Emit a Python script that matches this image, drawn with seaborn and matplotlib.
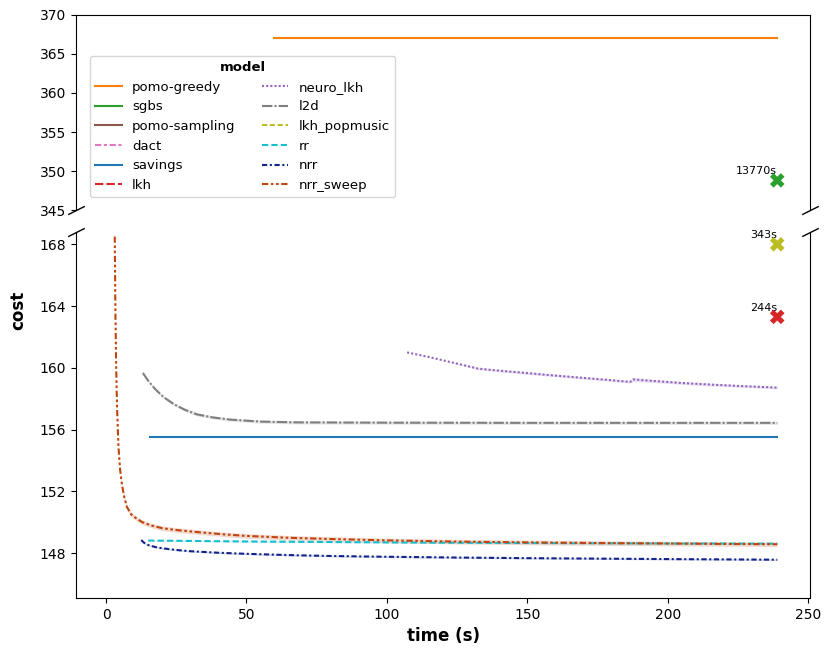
import matplotlib
matplotlib.use("Agg")
import matplotlib.pyplot as plt
from matplotlib.lines import Line2D
import seaborn as sns
import pandas as pd

models = ["pomo-greedy", "sgbs", "pomo-sampling", "dact", "savings", "lkh",
          "neuro_lkh", "l2d", "lkh_popmusic", "rr", "nrr", "nrr_sweep"]

colors = {
    "pomo-greedy": "#ff7f0e", "sgbs": "#2ca02c", "pomo-sampling": "#8c564b",
    "dact": "#e377c2", "savings": "#1f77b4", "lkh": "#d62728",
    "neuro_lkh": "#9467bd", "l2d": "#7f7f7f", "lkh_popmusic": "#bcbd22",
    "rr": "#17becf", "nrr": "#12238a", "nrr_sweep": "#c1440e",
}
dashes = {
    "pomo-greedy": "", "sgbs": "", "pomo-sampling": "", "dact": (3, 1.25, 1.5, 1.25),
    "savings": "", "lkh": (4, 1.5), "neuro_lkh": (1, 1), "l2d": (5, 1, 1, 1),
    "lkh_popmusic": (2.5, 1.25), "rr": (3, 1.5),
    "nrr": (2.5, 1.25, 1, 1.25), "nrr_sweep": (3, 1.25, 1.25, 1.25, 1.25, 1.25),
}

# anytime curves (time in s, mean cost)
pomo_greedy_t = [59.8, 239]
pomo_greedy_c = [367.1, 367.1]

savings_t = [15.7, 239]
savings_c = [155.5, 155.5]

neuro_lkh_t = [107.2, 115, 122, 132.5, 140, 150, 160, 170, 180, 186.6, 187.7, 195, 205, 215, 225, 239]
neuro_lkh_c = [161.0, 160.7, 160.4, 159.95, 159.82, 159.66, 159.5, 159.35, 159.2, 159.09,
               159.25, 159.15, 159.02, 158.92, 158.83, 158.72]
neuro_lkh_err = [0.0, 0.0, 0.0, 0.07, 0.08, 0.08, 0.08, 0.08, 0.08, 0.08, 0.14, 0.1, 0.09, 0.09, 0.08, 0.08]

l2d_t = [13.1, 15, 17.5, 20.4, 24, 28, 32.3, 38, 44.2, 55, 68, 100, 150, 200, 239]
l2d_c = [159.67, 159.16, 158.62, 158.12, 157.66, 157.29, 156.99, 156.79, 156.65, 156.52,
         156.47, 156.45, 156.44, 156.44, 156.44]
l2d_err = [0.05, 0.06, 0.07, 0.08, 0.09, 0.1, 0.1, 0.1, 0.1, 0.1, 0.1, 0.1, 0.1, 0.1, 0.1]

rr_t = [15, 50, 100, 150, 200, 239]
rr_c = [148.82, 148.76, 148.7, 148.66, 148.63, 148.62]
rr_err = [0.04, 0.04, 0.04, 0.04, 0.04, 0.04]

nrr_t = [12.5, 13.5, 15, 17.5, 20, 25, 30, 40, 50, 65, 80, 100, 125, 150, 175, 200, 239]
nrr_c = [148.85, 148.68, 148.53, 148.4, 148.32, 148.21, 148.13, 148.03, 147.96, 147.88,
         147.82, 147.77, 147.72, 147.68, 147.65, 147.62, 147.58]
nrr_err = [0.05] * len(nrr_t)

nrr_sweep_t = [3.1, 3.3, 3.6, 3.9, 4.4, 5.0, 5.6, 6.5, 7.4, 9.0, 11, 13, 16, 20, 25, 33,
               42, 50, 65, 80, 100, 125, 150, 175, 200, 220, 239]
nrr_sweep_c = [168.5, 164.0, 160.0, 157.5, 154.9, 153.4, 152.5, 151.6, 151.0, 150.5, 150.22,
               150.0, 149.8, 149.62, 149.5, 149.36, 149.22, 149.12, 149.0, 148.92, 148.83,
               148.75, 148.7, 148.66, 148.63, 148.6, 148.58]
nrr_sweep_err = [0.15] * len(nrr_sweep_t)

# methods that only finish after the time limit
final_models = ["sgbs", "lkh_popmusic", "lkh"]
final_time = [239, 239, 239]
final_cost = [348.8, 168.0, 163.3]
final_runtime = ["13770s", "343s", "244s"]

curves = {
    "pomo-greedy": (pomo_greedy_t, pomo_greedy_c, None),
    "savings": (savings_t, savings_c, None),
    "neuro_lkh": (neuro_lkh_t, neuro_lkh_c, neuro_lkh_err),
    "l2d": (l2d_t, l2d_c, l2d_err),
    "rr": (rr_t, rr_c, rr_err),
    "nrr": (nrr_t, nrr_c, nrr_err),
    "nrr_sweep": (nrr_sweep_t, nrr_sweep_c, nrr_sweep_err),
}

rows = []
for m, (t, c, _) in curves.items():
    for ti, ci in zip(t, c):
        rows.append({"model": m, "time": ti, "cost": ci})
df = pd.DataFrame(rows)
df_final = pd.DataFrame({"model": final_models, "time": final_time, "cost": final_cost})

fig, (ax_top, ax_bot) = plt.subplots(
    2, 1, sharex=True, figsize=(8.3, 6.51), dpi=100,
    gridspec_kw={"height_ratios": [195, 366]})
fig.subplots_adjust(left=0.0916, right=0.976, top=0.977, bottom=0.0814, hspace=0.078)

for ax in (ax_top, ax_bot):
    sns.lineplot(data=df, x="time", y="cost", hue="model", style="model",
                 palette=colors, dashes=dashes, errorbar=None, linewidth=1.5,
                 legend=False, ax=ax)
    for m, (t, c, err) in curves.items():
        if err is None:
            continue
        lo = [ci - e for ci, e in zip(c, err)]
        hi = [ci + e for ci, e in zip(c, err)]
        ax.fill_between(t, lo, hi, color=colors[m], alpha=0.2, linewidth=0)
    sns.scatterplot(data=df_final, x="time", y="cost", hue="model", palette=colors,
                    marker="X", s=110, linewidth=0, legend=False, ax=ax, zorder=5)
    ax.set_ylabel("")

ax_top.set_ylim(345, 370)
ax_top.set_yticks(range(345, 371, 5))
ax_bot.set_ylim(145.1, 168.8)
ax_bot.set_yticks(range(148, 169, 4))
ax_bot.set_xlim(-10.7, 250.7)
ax_bot.set_xticks(range(0, 251, 50))

for m, t, c, lab in zip(final_models, final_time, final_cost, final_runtime):
    ax = ax_top if c > 300 else ax_bot
    ax.annotate(lab, (t, c), xytext=(0, 3), textcoords="offset points",
                ha="right", va="bottom", fontsize=8)

ax_top.spines["bottom"].set_visible(False)
ax_bot.spines["top"].set_visible(False)
ax_top.tick_params(bottom=False, labelbottom=False)
ax_top.set_xlabel("")

d = .5
kw = dict(marker=[(-1, -d), (1, d)], markersize=12, linestyle="none",
          color="k", mec="k", mew=1, clip_on=False)
ax_top.plot([0, 1], [0, 0], transform=ax_top.transAxes, **kw)
ax_bot.plot([0, 1], [1, 1], transform=ax_bot.transAxes, **kw)

ax_bot.set_xlabel("time (s)", fontsize=12, fontweight="bold")
fig.text(0.022, 0.524, "cost", rotation=90, ha="center", va="center",
         fontsize=12, fontweight="bold")

handles = [Line2D([], [], color=colors[m], linewidth=1.5,
                  linestyle=(0, dashes[m]) if dashes[m] else "-") for m in models]
ax_top.legend(handles, models, title="model", ncol=2, loc="upper left",
              bbox_to_anchor=(0.019, 0.79), borderaxespad=0, fontsize=9.5,
              title_fontproperties={"weight": "bold", "size": 9.5})

fig.savefig("out.png", dpi=100)
